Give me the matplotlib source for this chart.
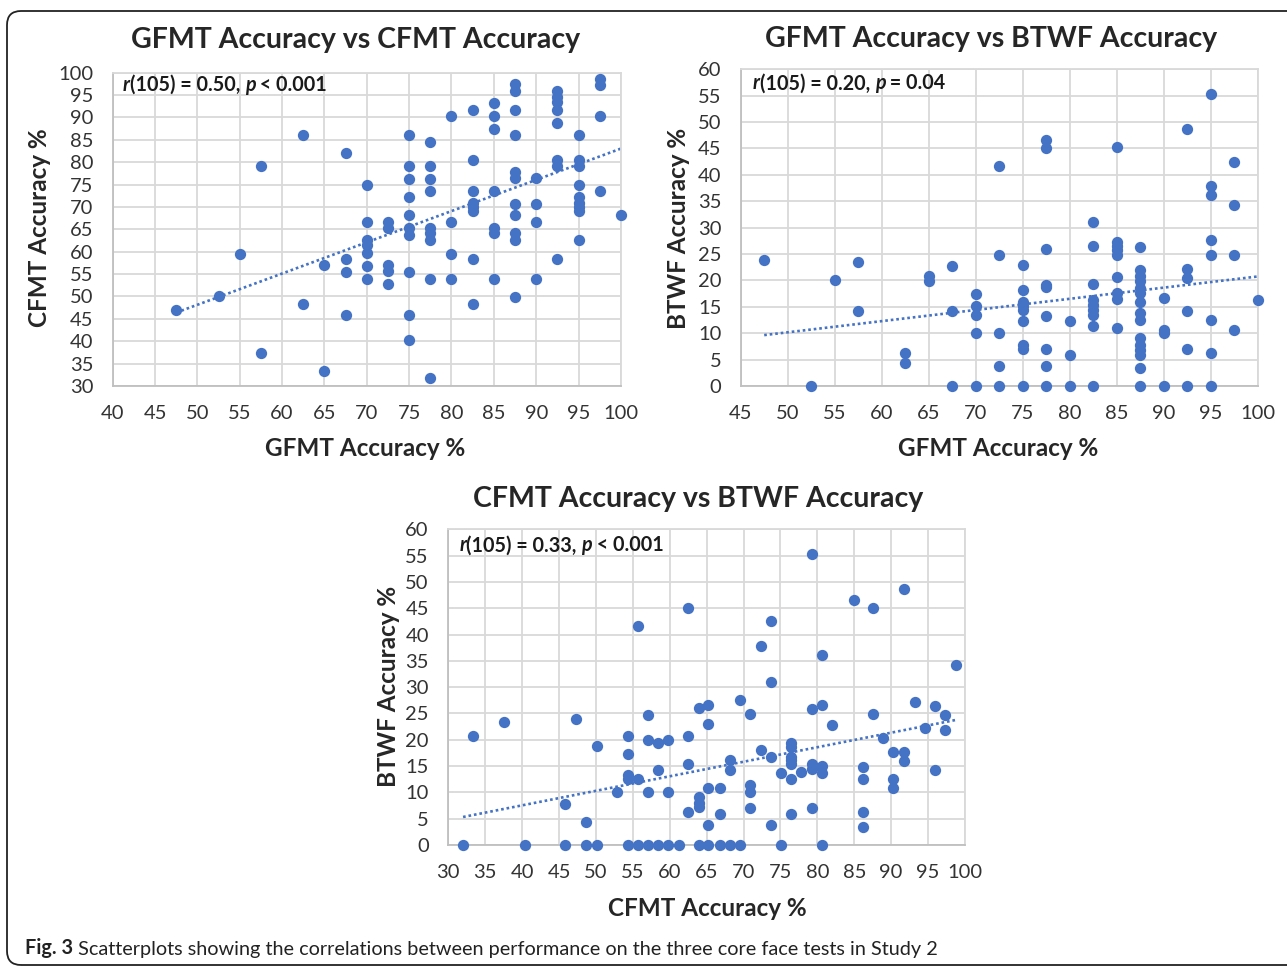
import numpy as np
import matplotlib.pyplot as plt
from matplotlib.patches import FancyBboxPatch
from matplotlib.text import Annotation
from matplotlib.transforms import IdentityTransform

plt.rcParams['font.family'] = ['Lato', 'DejaVu Sans']

W, H = 1287, 967
BLUE = '#4472C4'

# GFMT vs CFMT
gfmt1 = [47.5, 52.5, 55, 57.5, 57.5, 62.5, 62.5, 65, 65, 67.5, 67.5, 67.5, 67.5,
         70, 70, 70, 70, 70, 70, 70,
         72.5, 72.5, 72.5, 72.5, 72.5,
         75, 75, 75, 75, 75, 75, 75, 75, 75, 75,
         77.5, 77.5, 77.5, 77.5, 77.5, 77.5, 77.5, 77.5, 77.5,
         80, 80, 80, 80,
         82.5, 82.5, 82.5, 82.5, 82.5, 82.5, 82.5, 82.5,
         85, 85, 85, 85, 85, 85, 85,
         87.5, 87.5, 87.5, 87.5, 87.5, 87.5, 87.5, 87.5, 87.5, 87.5, 87.5,
         90, 90, 90, 90,
         92.5, 92.5, 92.5, 92.5, 92.5, 92.5, 92.5, 92.5,
         95, 95, 95, 95, 95, 95, 95, 95, 95,
         97.5, 97.5, 97.5, 97.5,
         100]
cfmt1 = [47, 50, 59.6, 79.1, 37.4, 86, 48.3, 57, 33.3, 82, 58.3, 55.5, 45.8,
         75, 66.7, 62.6, 61.5, 59.8, 56.8, 54,
         66.6, 65.4, 57, 55.8, 52.7,
         86, 79.1, 76.3, 72.2, 68.1, 65.4, 63.7, 55.5, 45.8, 40.2,
         84.6, 79.1, 76.3, 73.6, 65.4, 64.1, 62.6, 54, 31.8,
         90.3, 66.6, 59.6, 54,
         91.7, 80.6, 73.6, 70.8, 70.0, 69.2, 58.3, 48.4,
         93.2, 90.3, 87.5, 73.6, 65.4, 64.1, 54,
         97.4, 95.9, 91.7, 86, 77.9, 76.4, 70.7, 68.1, 64.1, 62.6, 49.9,
         76.4, 70.7, 66.6, 54,
         95.9, 94.6, 93.4, 91.7, 88.8, 80.6, 79.2, 58.3,
         86, 80.6, 79.2, 74.9, 72.2, 70.8, 70.1, 69.2, 62.6,
         98.5, 97.2, 90.3, 73.6,
         68.1]

# GFMT vs BTWF
gfmt2 = [47.5, 52.5, 55, 57.5, 57.5, 62.5, 62.5, 65, 65, 67.5, 67.5, 67.5,
         70, 70, 70, 70, 70,
         72.5, 72.5, 72.5, 72.5, 72.5,
         75, 75, 75, 75, 75, 75, 75, 75, 75,
         77.5, 77.5, 77.5, 77.5, 77.5, 77.5, 77.5, 77.5, 77.5,
         80, 80, 80,
         82.5, 82.5, 82.5, 82.5, 82.5, 82.5, 82.5, 82.5, 82.5,
         85, 85, 85, 85, 85, 85, 85, 85, 85,
         87.5, 87.5, 87.5, 87.5, 87.5, 87.5, 87.5, 87.5, 87.5, 87.5, 87.5, 87.5, 87.5, 87.5, 87.5,
         90, 90, 90, 90,
         92.5, 92.5, 92.5, 92.5, 92.5, 92.5,
         95, 95, 95, 95, 95, 95, 95, 95,
         97.5, 97.5, 97.5, 97.5,
         100]
btwf2 = [23.9, 0, 20, 23.4, 14.3, 6.2, 4.3, 20.8, 19.8, 22.8, 14.3, 0,
         17.4, 15.2, 13.5, 10, 0,
         41.7, 24.8, 10, 3.8, 0,
         22.9, 18.2, 16.0, 15.2, 14.4, 12.4, 7.8, 7.1, 0,
         46.7, 45, 25.9, 19.1, 18.7, 13.3, 7.1, 3.7, 0,
         12.4, 5.9, 0,
         31, 26.5, 19.3, 16.3, 15.3, 14.4, 13.5, 11.4, 0,
         45.2, 27.2, 26.5, 25.8, 24.8, 20.7, 17.7, 16.4, 10.9,
         26.4, 21.9, 20.8, 19.8, 18.6, 17.6, 16, 13.8, 12.5, 9, 7.8, 6.8, 5.9, 3.4, 0,
         16.6, 10.6, 10, 0,
         48.6, 22.2, 20.4, 14.3, 7.1, 0,
         55.3, 37.9, 36.2, 27.7, 24.9, 12.5, 6.2, 0,
         42.5, 34.3, 24.9, 10.7,
         16.2]

# CFMT vs BTWF
cfmt3 = [32, 33.4, 37.6, 40.4, 45.8, 45.8, 47.3, 48.6, 48.6, 50.1, 50.1, 52.9,
         54.3, 54.3, 54.3, 54.3, 54.3, 55.7, 55.7, 55.7,
         57, 57, 57, 57, 58.4, 58.4, 58.4, 59.8, 59.8, 59.8, 61.2,
         62.5, 62.5, 62.5, 62.5, 63.9, 63.9, 63.9, 63.9, 63.9,
         65.2, 65.2, 65.2, 65.2, 65.2, 66.8, 66.8, 66.8, 68.2, 68.2, 68.2,
         69.5, 69.5, 70.9, 70.9, 70.9, 70.9, 72.3, 72.3,
         73.7, 73.7, 73.7, 73.7, 75.1, 75.1,
         76.4, 76.4, 76.4, 76.4, 76.4, 76.4, 76.4, 77.8,
         79.3, 79.3, 79.3, 79.3, 79.3, 80.6, 80.6, 80.6, 80.6, 80.6,
         82, 84.9, 86.2, 86.2, 86.2, 86.2, 87.6, 87.6, 88.9,
         90.3, 90.3, 90.3, 91.8, 91.8, 91.8, 93.2, 94.6,
         95.9, 95.9, 97.3, 97.3, 98.8]
btwf3 = [0, 20.7, 23.4, 0, 7.7, 0, 24, 4.3, 0, 18.9, 0, 10,
         20.7, 17.2, 13.3, 12.5, 0, 41.6, 12.5, 0,
         24.8, 20, 10, 0, 19.3, 14.3, 0, 20, 10, 0, 0,
         45, 20.7, 15.3, 6.2, 26, 9.1, 7.9, 7.2, 0,
         26.6, 23, 10.8, 3.8, 0, 10.8, 5.8, 0, 16.2, 14.3, 0,
         27.6, 0, 24.9, 11.4, 10, 7.1, 37.8, 18.1,
         42.5, 30.9, 16.7, 3.8, 13.6, 0,
         19.3, 18.7, 16.8, 16.2, 15.4, 12.5, 5.8, 13.8,
         55.3, 25.8, 15.4, 14.4, 7.1, 36.1, 26.6, 15, 13.6, 0,
         22.8, 46.6, 14.9, 12.5, 6.3, 3.5, 45.1, 24.9, 20.4,
         17.6, 12.5, 10.8, 48.6, 17.6, 16, 27.1, 22.2,
         26.4, 14.3, 24.8, 21.9, 34.3]

fig = plt.figure(figsize=(W / 100, H / 100), dpi=100)


def px_axes(l, t, r, b):
    return fig.add_axes([l / W, 1 - b / H, (r - l) / W, (b - t) / H])


def ftext(x, y, s, **kw):
    return fig.text(x / W, 1 - y / H, s, ha='center', va='center', **kw)


def panel(ax, x, y, xlim, ylim, pieces, off):
    ax.scatter(x, y, s=66, color=BLUE, linewidths=0, zorder=3, clip_on=False)
    k, c = np.polyfit(x, y, 1)
    xs = np.array([min(x), max(x)])
    ax.plot(xs, k * xs + c, ls=(0, (1, 1.1)), lw=1.9, color=BLUE, zorder=2)
    ax.set_xlim(xlim)
    ax.set_ylim(ylim)
    ax.set_xticks(np.arange(xlim[0], xlim[1] + 1, 5))
    ax.set_yticks(np.arange(ylim[0], ylim[1] + 1, 5))
    ax.grid(True, color='#d9d9d9', lw=1.3)
    ax.set_axisbelow(True)
    ax.tick_params(length=0, pad=14, labelsize=14.5, colors='#333333')
    for s in ax.spines.values():
        s.set_color('#d9d9d9')
        s.set_linewidth(1.3)
    ax.spines['left'].set_color('#bfbfbf')
    ax.spines['bottom'].set_color('#bfbfbf')
    # correlation note, italic r and p
    t = None
    for txt, it in pieces:
        kw = dict(fontsize=14.2, weight='bold', style='italic' if it else 'normal',
                  color='#1a1a1a', ha='left', va='bottom')
        if t is None:
            t = ax.annotate(txt, xy=(0, 1), xycoords='axes fraction',
                            xytext=(off[0], -off[1]), textcoords='offset pixels', **kw)
            t.set_va('center')
        else:
            t = ax.annotate(txt, xy=(1, 0), xycoords=t, **kw)


ax1 = px_axes(112.7, 72.7, 620.9, 386)
panel(ax1, gfmt1, cfmt1, (40, 100), (30, 100),
      [('r', True), ('(105) = 0.50, ', False), ('p', True), (' < 0.001', False)], (10, 12))
ax2 = px_axes(740.7, 69.3, 1257.7, 386)
panel(ax2, gfmt2, btwf2, (45, 100), (0, 60),
      [('r', True), ('(105) = 0.20, ', False), ('p', True), (' = 0.04', False)], (12, 14))
ax3 = px_axes(448.3, 529.3, 965, 845)
panel(ax3, cfmt3, btwf3, (30, 100), (0, 60),
      [('r', True), ('(105) = 0.33, ', False), ('p', True), (' < 0.001', False)], (11, 16))

tkw = dict(fontsize=20.5, weight='bold', color='#262626')
ftext(356, 40, 'GFMT Accuracy vs CFMT Accuracy', **tkw)
ftext(991, 39, 'GFMT Accuracy vs BTWF Accuracy', **tkw)
ftext(698, 499, 'CFMT Accuracy vs BTWF Accuracy', **tkw)

lkw = dict(fontsize=17.5, weight='bold', color='#262626')
ftext(365, 449, 'GFMT Accuracy %', **lkw)
ftext(998, 449, 'GFMT Accuracy %', **lkw)
ftext(707, 908, 'CFMT Accuracy %', **lkw)
ftext(40, 228, 'CFMT Accuracy %', rotation=90, **lkw)
ftext(679, 228, 'BTWF Accuracy %', rotation=90, **lkw)
ftext(388, 686, 'BTWF Accuracy %', rotation=90, **lkw)

cap = fig.text(25 / W, 1 - 948 / H, 'Fig. 3', ha='left', va='center',
               fontsize=14.3, weight='bold', color='#222222')
fig.add_artist(Annotation(
    ' Scatterplots showing the correlations between performance on the three core face tests in Study 2',
    xy=(1, 0), xycoords=cap, ha='left', va='bottom', fontsize=14.3, color='#222222'))

frame = FancyBboxPatch((7, 2), 1330, 954, boxstyle='round,pad=0,rounding_size=14',
                       transform=IdentityTransform(), fill=False, ec='#222222', lw=1.3)
fig.add_artist(frame)

fig.savefig('out.png', dpi=100)
